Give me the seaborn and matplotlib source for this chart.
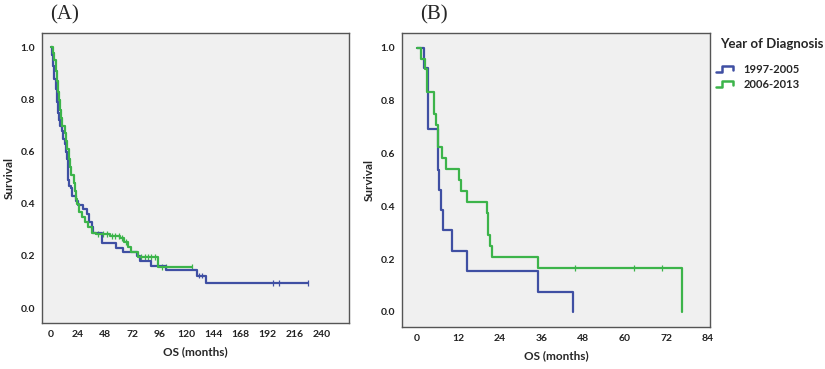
import numpy as np
import pandas as pd
import matplotlib
matplotlib.use("Agg")
import matplotlib.pyplot as plt
import seaborn as sns
from matplotlib.lines import Line2D
from matplotlib.legend_handler import HandlerBase

# Kaplan-Meier steps (months, survival)
groups = ["1997-2005", "2006-2013"]
colors = {"1997-2005": "#3f4fa3", "2006-2013": "#3cb44a"}

# panel A
a_blue_t = [0, 1, 2, 3, 4, 5, 6, 7, 8, 10, 11, 12, 13, 14, 15, 16, 18, 19, 22, 24, 28, 32,
            34, 36, 37, 45, 58, 64, 76, 79, 89, 102, 129, 137, 228]
a_blue_s = [1.0, 0.97, 0.93, 0.88, 0.84, 0.79, 0.75, 0.72, 0.70, 0.68, 0.65, 0.63, 0.60, 0.57,
            0.49, 0.47, 0.46, 0.43, 0.41, 0.395, 0.38, 0.36, 0.33, 0.31, 0.29, 0.25, 0.232,
            0.215, 0.20, 0.18, 0.16, 0.145, 0.125, 0.095, 0.095]
a_green_t = [0, 2, 3, 4, 5, 6, 7, 8, 9, 10, 12, 13, 14, 16, 17, 18, 20, 21, 22, 23, 25, 27,
             30, 33, 36, 40, 52, 61, 65, 68, 71, 77, 95, 125]
a_green_s = [1.0, 0.98, 0.95, 0.91, 0.87, 0.83, 0.80, 0.76, 0.73, 0.70, 0.67, 0.64, 0.61,
             0.57, 0.54, 0.51, 0.48, 0.45, 0.42, 0.40, 0.37, 0.35, 0.33, 0.31, 0.29, 0.285,
             0.275, 0.268, 0.255, 0.235, 0.215, 0.197, 0.158, 0.158]
a_blue_cens = [131, 134, 197, 202, 228]
a_green_cens = [42, 46, 50, 54, 57, 60, 63, 66, 80, 83, 86, 89, 92, 98, 102, 125]

# panel B
b_blue_t = [0, 2.0, 3.2, 6.0, 6.2, 6.5, 7.0, 7.5, 10.2, 14.5, 35.0, 45.0]
b_blue_s = [1.0, 0.923, 0.692, 0.615, 0.538, 0.462, 0.385, 0.308, 0.231, 0.154, 0.077, 0.0]
b_green_t = [0, 1.1, 2.3, 3.0, 4.8, 5.5, 6.0, 7.3, 8.5, 12.2, 12.8, 14.6, 20.2, 20.4, 20.6,
             21.0, 21.8, 35.0, 76.5]
b_green_s = [1.0, 0.958, 0.917, 0.833, 0.75, 0.708, 0.625, 0.583, 0.542, 0.5, 0.458, 0.417,
             0.375, 0.333, 0.292, 0.25, 0.208, 0.167, 0.0]
b_green_cens = [45.5, 62.6, 70.8]


def km_frame(bt, bs, gt, gs):
    d1 = pd.DataFrame({"t": bt, "s": bs, "grp": groups[0]})
    d2 = pd.DataFrame({"t": gt, "s": gs, "grp": groups[1]})
    return pd.concat([d1, d2], ignore_index=True)


def cens_frame(times, steps_t, steps_s, grp):
    st = np.array(steps_t)
    ss = np.array(steps_s)
    vals = [ss[np.searchsorted(st, c, side="right") - 1] for c in times]
    return pd.DataFrame({"t": times, "s": vals, "grp": grp})


class StepHandler(HandlerBase):
    def create_artists(self, legend, orig, xd, yd, width, height, fontsize, trans):
        x = [xd, xd + width * 0.35, xd + width * 0.35, xd + width, xd + width]
        y = [yd + height * 0.1, yd + height * 0.1, yd + height * 0.85, yd + height * 0.85,
             yd + height * 0.4]
        ln = Line2D(x, y, color=orig.get_color(), lw=1.8, transform=trans)
        return [ln]


sns.set_style("white")
plt.rcParams["font.family"] = ["Lato", "DejaVu Sans"]

fig = plt.figure(figsize=(8.25, 3.69), dpi=100)
axA = fig.add_axes([42 / 825, 1 - 323 / 369, 307 / 825, 290 / 369])
axB = fig.add_axes([402 / 825, 1 - 327 / 369, 308 / 825, 294 / 369])

dfA = km_frame(a_blue_t, a_blue_s, a_green_t, a_green_s)
dfB = km_frame(b_blue_t, b_blue_s, b_green_t, b_green_s)
censA = pd.concat([cens_frame(a_blue_cens, a_blue_t, a_blue_s, groups[0]),
                   cens_frame(a_green_cens, a_green_t, a_green_s, groups[1])])
censB = cens_frame(b_green_cens, b_green_t, b_green_s, groups[1])

for ax, df, cens in [(axA, dfA, censA), (axB, dfB, censB)]:
    sns.lineplot(data=df, x="t", y="s", hue="grp", palette=colors, estimator=None,
                 drawstyle="steps-post", lw=1.6, legend=False, ax=ax)
    sns.scatterplot(data=cens, x="t", y="s", hue="grp", palette=colors, marker="|",
                    s=18, linewidth=0.9, legend=False, ax=ax)
    ax.set_facecolor("#f0f0f0")
    for sp in ax.spines.values():
        sp.set_color("#555555")
        sp.set_linewidth(1.0)
    ax.set_ylim(-0.057, 1.055)
    ax.set_yticks([0.0, 0.2, 0.4, 0.6, 0.8, 1.0])
    ax.set_yticklabels(["0.0", "0.2", "0.4", "0.6", "0.8", "1.0"])
    ax.tick_params(axis="both", direction="out", length=3, width=0.8, color="#333333",
                   labelsize=7.5, pad=2, labelcolor="#222222")
    ax.set_xlabel("OS (months)", fontsize=8.5, fontweight="bold", labelpad=5)
    ax.set_ylabel("Survival", fontsize=8.5, fontweight="bold", labelpad=4)

axA.set_xlim(-8, 264)
axA.set_xticks(np.arange(0, 241, 24))
axB.set_xlim(-4.3, 84.6)
axB.set_xticks(np.arange(0, 85, 12))
for ax in (axA, axB):
    for lab in ax.get_xticklabels() + ax.get_yticklabels():
        lab.set_fontweight("bold")

fig.text(50 / 825, 1 - 15 / 369, "(A)", family="Liberation Serif", fontsize=15, va="center")
fig.text(420 / 825, 1 - 15 / 369, "(B)", family="Liberation Serif", fontsize=15, va="center")

# legend: title as own text, entries below
fig.text(720 / 825, 1 - 44 / 369, "Year of Diagnosis", fontsize=9.5, fontweight="bold",
         va="center", ha="left")
handles = [Line2D([], [], color=colors[g]) for g in groups]
leg = fig.legend(handles, groups, loc="upper left",
                 bbox_to_anchor=(706 / 825, 1 - 54 / 369), frameon=False,
                 handler_map={Line2D: StepHandler()}, handlelength=1.5,
                 prop={"size": 8, "weight": "bold"}, labelspacing=0.35,
                 handletextpad=1.0)

fig.savefig("out.png", dpi=100)
